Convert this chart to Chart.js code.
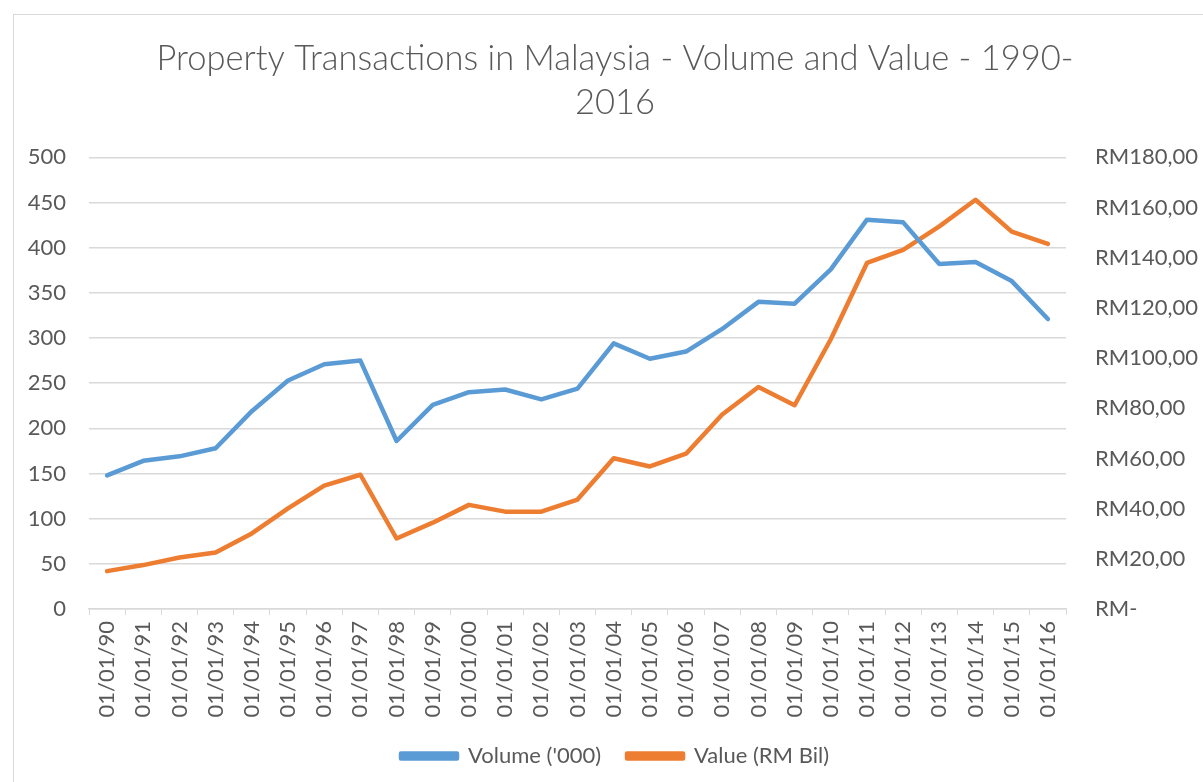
<!DOCTYPE html>
<html>
<head>
<meta charset="utf-8">
<script src="https://cdn.jsdelivr.net/npm/chart.js@4"></script>
<style>
  html, body { margin: 0; padding: 0; background: #fff; overflow: hidden; }
  #frame {
    position: absolute; left: 13px; top: 14px; width: 1210px; height: 800px;
    border-left: 1px solid #d9d9d9; border-top: 1px solid #d9d9d9;
  }
  #wrap { position: absolute; left: 14px; top: 15px; width: 1202px; height: 780px; }
</style>
</head>
<body>
<div id="frame"></div>
<div id="wrap"><canvas id="chart"></canvas></div>
<script>
// Years shown on the category axis
const years = ['90','91','92','93','94','95','96','97','98','99','00','01','02','03',
               '04','05','06','07','08','09','10','11','12','13','14','15','16'];
const labels = years.map(y => '01/01/' + y);

// Volume of transactions ('000) - left axis
const volume = [148, 164, 169, 178, 219, 253, 271, 275, 186, 226, 240, 243, 232, 244,
                294, 277, 285, 310, 340, 338, 376, 431, 428, 382, 384, 363, 321];

// Value of transactions (RM billion) - right axis
const value = [15.1, 17.5, 20.5, 22.5, 30.1, 40.1, 49.2, 53.5, 28.1, 34.4, 41.5, 38.8, 38.8, 43.6,
               60.1, 56.8, 61.9, 77.5, 88.5, 81.2, 107.5, 137.9, 143.1, 152.5, 163.1, 150.4, 145.5];

const leftTicks = [0, 50, 100, 150, 200, 250, 300, 350, 400, 450, 500];
const rightTicks = [0, 20, 40, 60, 80, 100, 120, 140, 160, 180];

const grey = '#595959';
const gridGrey = '#d9d9d9';
const font = { family: 'Lato', size: 22 };

Chart.defaults.font.family = 'Lato';
Chart.defaults.color = grey;

const ctx = document.getElementById('chart').getContext('2d');
new Chart(ctx, {
    type: 'line',
    data: {
        labels: labels,
        datasets: [{
            label: "Volume ('000)",
            data: volume,
            borderColor: '#5b9bd5',
            backgroundColor: '#5b9bd5',
            borderWidth: 4.5,
            pointRadius: 0,
            borderCapStyle: 'round',
            borderJoinStyle: 'round',
            yAxisID: 'y'
        }, {
            label: 'Value (RM Bil)',
            data: value,
            borderColor: '#ed7d31',
            backgroundColor: '#ed7d31',
            borderWidth: 4.5,
            pointRadius: 0,
            borderCapStyle: 'round',
            borderJoinStyle: 'round',
            yAxisID: 'y1'
        }]
    },
    options: {
        responsive: true,
        maintainAspectRatio: false,
        animation: false,
        layout: { padding: { left: 0, right: 0, top: 0, bottom: 18 } },
        plugins: {
            title: {
                display: true,
                text: ['Property Transactions in Malaysia - Volume and Value - 1990-', '2016'],
                color: grey,
                font: { family: 'Lato', size: 34.5, weight: 300, lineHeight: 1.28 },
                padding: { top: 22, bottom: 32 }
            },
            legend: {
                position: 'bottom',
                labels: {
                    color: grey,
                    font: font,
                    boxWidth: 56,
                    boxHeight: 5,
                    padding: 26
                }
            },
            tooltip: { enabled: false }
        },
        scales: {
            x: {
                offset: true,
                grid: { offset: true, drawOnChartArea: false, drawTicks: true, tickLength: 6, color: gridGrey },
                border: { color: gridGrey, width: 1.5 },
                ticks: { font: font, color: grey, minRotation: 90, maxRotation: 90, padding: 6, autoSkip: false },
                afterFit: s => { s.height = 110; }
            },
            y: {
                position: 'left',
                min: 0, max: 500,
                afterBuildTicks: s => { s.ticks = leftTicks.map(v => ({ value: v })); },
                grid: { color: gridGrey, lineWidth: 1.5, drawTicks: false },
                border: { display: false },
                ticks: { font: font, color: grey, padding: 23 },
                afterFit: s => { s.width = 75; }
            },
            y1: {
                position: 'right',
                min: 0, max: 180,
                afterBuildTicks: s => { s.ticks = rightTicks.map(v => ({ value: v })); },
                grid: { drawOnChartArea: false, drawTicks: false },
                border: { display: false },
                ticks: {
                    font: font, color: grey, padding: 29,
                    callback: v => v === 0 ? 'RM-' : 'RM' + v + ',00'
                },
                afterFit: s => { s.width = 150; }
            }
        }
    }
});
</script>
</body>
</html>
